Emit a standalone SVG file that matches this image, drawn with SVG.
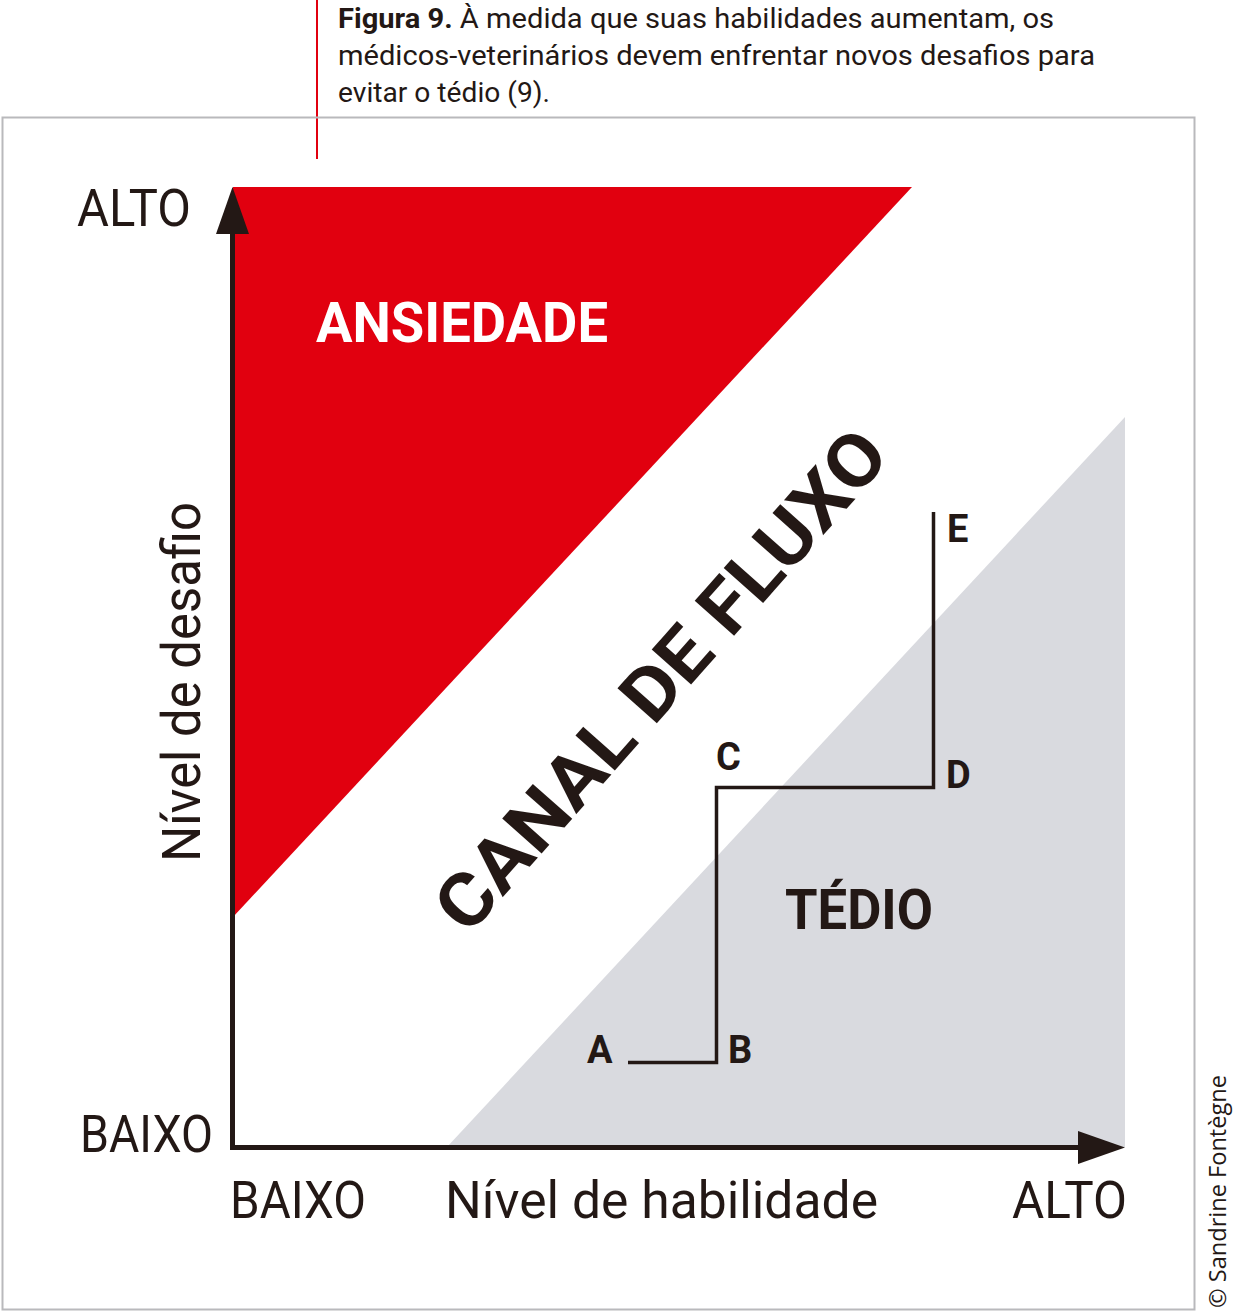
<svg xmlns="http://www.w3.org/2000/svg" width="1233" height="1313" viewBox="0 0 1233 1313">
<style>
.t{font-family:Roboto,"Liberation Sans",sans-serif;fill:#231815}
.reg{font-weight:400}
.b{font-weight:700}
.ax{font-size:52px}
.pt{font-size:38px;font-weight:700}
.cap{font-size:27px}
</style>
<rect width="1233" height="1313" fill="#ffffff"/>
<line x1="317" y1="0" x2="317" y2="159" stroke="#e1000f" stroke-width="2"/>
<rect x="2.5" y="117.5" width="1192" height="1192" fill="none" stroke="#b9b9bc" stroke-width="2"/>
<g id="caption">
<text class="t cap" x="338" y="28" textLength="716" lengthAdjust="spacingAndGlyphs"><tspan class="b">Figura 9.</tspan> À medida que suas habilidades aumentam, os</text>
<text class="t cap" x="338" y="65" textLength="757" lengthAdjust="spacingAndGlyphs">médicos-veterinários devem enfrentar novos desafios para</text>
<text class="t cap" x="338" y="102" textLength="212" lengthAdjust="spacingAndGlyphs">evitar o tédio (9).</text>
</g>
<g id="ansiedade">
<polygon points="233,187 912,187 233,917" fill="#e1000f"/>
<text class="t b" x="316" y="342" font-size="56" style="fill:#ffffff" textLength="292" lengthAdjust="spacingAndGlyphs">ANSIEDADE</text>
</g>
<g id="tedio">
<polygon points="447,1147 1125,417 1125,1147" fill="#d9dadf"/>
<text class="t b" x="785" y="929" font-size="55" textLength="148" lengthAdjust="spacingAndGlyphs">TÉDIO</text>
</g>
<g id="canal">
<text class="t b" x="0" y="0" font-size="74" text-anchor="middle" transform="translate(680,697) rotate(-48.5)" textLength="640" lengthAdjust="spacingAndGlyphs">CANAL DE FLUXO</text>
</g>
<g id="connectors">
<polyline points="628,1062.5 716.5,1062.5 716.5,787.5 933.5,787.5 933.5,512" fill="none" stroke="#231815" stroke-width="3.5"/>
<line x1="232.5" y1="1147.5" x2="232.5" y2="225" stroke="#231815" stroke-width="5"/>
<line x1="230" y1="1147.5" x2="1085" y2="1147.5" stroke="#231815" stroke-width="5"/>
<polygon points="232.5,187 216,234 249,234" fill="#231815"/>
<polygon points="1125,1147.5 1078,1131 1078,1164" fill="#231815"/>
</g>
<g id="points">
<text class="t pt" x="587" y="1063">A</text>
<text class="t pt" x="728" y="1063">B</text>
<text class="t pt" x="716" y="770">C</text>
<text class="t pt" x="946" y="788">D</text>
<text class="t pt" x="947" y="542">E</text>
</g>
<g id="axis-labels">
<text class="t reg ax" x="77" y="226" textLength="114" lengthAdjust="spacingAndGlyphs">ALTO</text>
<text class="t reg ax" x="80" y="1152" textLength="133" lengthAdjust="spacingAndGlyphs">BAIXO</text>
<text class="t reg ax" x="230" y="1218" textLength="136" lengthAdjust="spacingAndGlyphs">BAIXO</text>
<text class="t reg ax" x="445" y="1218" textLength="433" lengthAdjust="spacingAndGlyphs">Nível de habilidade</text>
<text class="t reg ax" x="1012" y="1218" textLength="115" lengthAdjust="spacingAndGlyphs">ALTO</text>
<text class="t reg" x="0" y="0" font-size="54" transform="translate(200,862) rotate(-90)" textLength="360" lengthAdjust="spacingAndGlyphs">Nível de desafio</text>
</g>
<g id="credit">
<text x="0" y="0" font-family="'Open Sans','Noto Sans',sans-serif" font-size="24" fill="#231815" transform="translate(1226,1308) rotate(-90)" textLength="233" lengthAdjust="spacingAndGlyphs">© Sandrine Fontègne</text>
</g>
</svg>
